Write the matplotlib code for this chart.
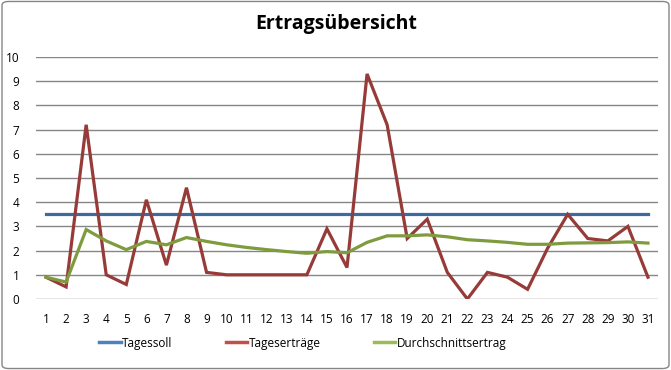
import matplotlib.pyplot as plt
from matplotlib.lines import Line2D
from matplotlib.patches import FancyBboxPatch

tage = list(range(1, 32))
tagessoll = [3.5] * 31
tagesertraege = [0.9, 0.5, 7.2, 1.0, 0.6, 4.1, 1.4, 4.6, 1.1, 1.0,
                 1.0, 1.0, 1.0, 1.0, 2.9, 1.3, 9.3, 7.2, 2.5, 3.3,
                 1.1, 0.0, 1.1, 0.9, 0.4, 2.1, 3.5, 2.5, 2.4, 3.0, 0.9]
durchschnitt = [0.9, 0.7, 2.87, 2.4, 2.04, 2.38, 2.24, 2.54, 2.38, 2.24,
                2.13, 2.04, 1.96, 1.89, 1.96, 1.91, 2.34, 2.61, 2.61, 2.65,
                2.57, 2.45, 2.40, 2.34, 2.26, 2.26, 2.31, 2.32, 2.33, 2.36, 2.31]
namen = ['Tagessoll', 'Tageserträge', 'Durchschnittsertrag']

farben = ['#3F6A9E', '#973B39', '#7E9B3E']
legende_farben = ['#4F81BD', '#C0504D', '#9BBB59']

plt.rcParams['font.family'] = ['Open Sans', 'DejaVu Sans']

fig = plt.figure(figsize=(6.71, 3.70), dpi=100)
fig.patches.append(FancyBboxPatch((0.003, 0.004), 0.994, 0.992,
                                  boxstyle='round,pad=0,rounding_size=0.01',
                                  transform=fig.transFigure, fill=False,
                                  edgecolor='#868686', linewidth=1))
ax = fig.add_axes([36 / 671, 1 - 299 / 370, 622 / 671, 242 / 370])

for werte, f in zip([tagessoll, tagesertraege, durchschnitt], farben):
    ax.plot(tage, werte, color=f, linewidth=2.3, solid_joinstyle='miter')

ax.set_xlim(0.5, 31.5)
ax.set_ylim(0, 10)
ax.set_yticks(range(0, 11))
ax.set_xticks(tage)
ax.yaxis.grid(True, color='#868686', linewidth=1)
ax.set_axisbelow(True)
for s in ax.spines.values():
    s.set_visible(False)
ax.tick_params(length=0, labelsize=8.5)
ax.tick_params(axis='y', pad=12)
ax.tick_params(axis='x', pad=10)

fig.text(336 / 671, 1 - 24 / 370, 'Ertragsübersicht', ha='center', va='center',
         fontsize=14, fontweight='bold')

handles = [Line2D([], [], color=c, linewidth=2.5) for c in legende_farben]
fig.legend(handles, namen, loc='center', bbox_to_anchor=(303 / 671, 1 - 343 / 370),
           ncol=3, frameon=False, fontsize=8.5, handlelength=1.8,
           handletextpad=0.15, columnspacing=4.5)

fig.savefig('out.png', dpi=100)
